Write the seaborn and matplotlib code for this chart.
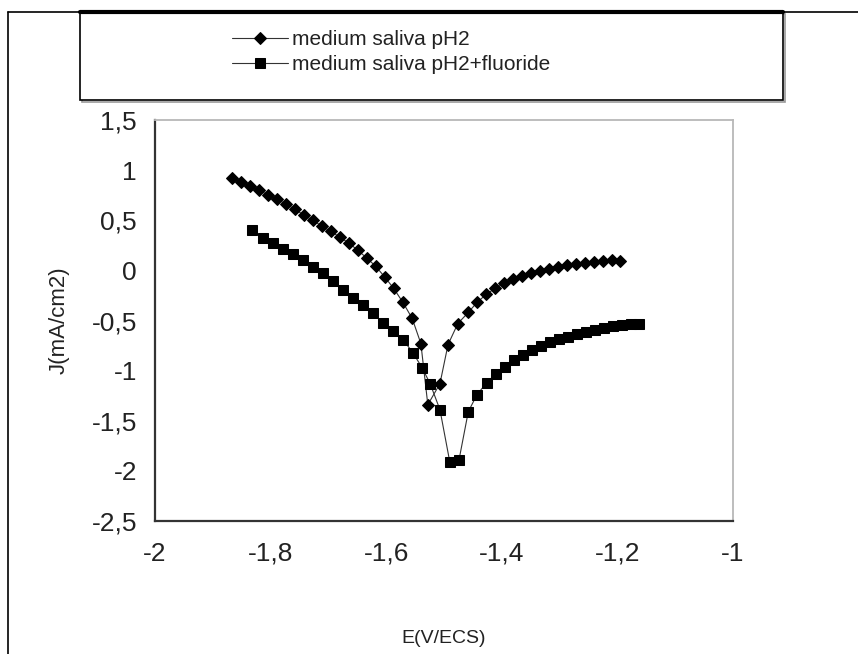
import numpy as np
import pandas as pd
import matplotlib
matplotlib.use('Agg')
import matplotlib.pyplot as plt
from matplotlib.patches import Rectangle
from matplotlib.lines import Line2D
import seaborn as sns

# dados: E (V/ECS) e J (mA/cm2)
e_saliva = [-1.867, -1.851, -1.836, -1.820, -1.804, -1.789, -1.773, -1.758, -1.742, -1.727,
            -1.711, -1.696, -1.680, -1.664, -1.649, -1.633, -1.618, -1.602, -1.587, -1.571,
            -1.555, -1.540, -1.528, -1.507, -1.493, -1.476, -1.458, -1.443, -1.427, -1.412,
            -1.396, -1.381, -1.365, -1.349, -1.334, -1.318, -1.303, -1.287, -1.272, -1.256,
            -1.240, -1.225, -1.209, -1.196]
j_saliva = [0.92, 0.88, 0.84, 0.80, 0.75, 0.71, 0.66, 0.61, 0.55, 0.50,
            0.44, 0.39, 0.33, 0.27, 0.20, 0.12, 0.04, -0.07, -0.18, -0.32,
            -0.48, -0.73, -1.34, -1.13, -0.74, -0.53, -0.42, -0.32, -0.24, -0.18,
            -0.13, -0.09, -0.06, -0.03, -0.01, 0.01, 0.03, 0.05, 0.06, 0.07,
            0.08, 0.09, 0.10, 0.09]

e_fluor = [-1.832, -1.813, -1.796, -1.779, -1.761, -1.744, -1.727, -1.709, -1.692, -1.675,
           -1.657, -1.640, -1.623, -1.606, -1.588, -1.571, -1.554, -1.538, -1.524, -1.507,
           -1.490, -1.474, -1.458, -1.443, -1.426, -1.410, -1.394, -1.379, -1.363, -1.348,
           -1.332, -1.317, -1.301, -1.285, -1.270, -1.254, -1.239, -1.223, -1.208, -1.192,
           -1.176, -1.163]
j_fluor = [0.40, 0.32, 0.27, 0.21, 0.16, 0.10, 0.03, -0.03, -0.11, -0.20,
           -0.28, -0.35, -0.43, -0.52, -0.60, -0.69, -0.82, -0.97, -1.13, -1.39,
           -1.91, -1.89, -1.41, -1.24, -1.12, -1.03, -0.96, -0.89, -0.84, -0.79,
           -0.75, -0.71, -0.68, -0.66, -0.63, -0.61, -0.59, -0.57, -0.55, -0.54,
           -0.53, -0.53]

series_names = ['medium saliva pH2', 'medium saliva pH2+fluoride']

x_ticks = [-2, -1.8, -1.6, -1.4, -1.2, -1]
x_tick_labels = ['-2', '-1,8', '-1,6', '-1,4', '-1,2', '-1']
y_ticks = [1.5, 1, 0.5, 0, -0.5, -1, -1.5, -2, -2.5]
y_tick_labels = ['1,5', '1', '0,5', '0', '-0,5', '-1', '-1,5', '-2', '-2,5']

df = pd.concat([
    pd.DataFrame({'E': e_saliva, 'J': j_saliva, 'serie': series_names[0]}),
    pd.DataFrame({'E': e_fluor, 'J': j_fluor, 'serie': series_names[1]}),
], ignore_index=True)

sns.set_style('white')
plt.rcParams['font.family'] = ['Liberation Sans', 'DejaVu Sans']

W, H = 858, 654
fig = plt.figure(figsize=(W / 100, H / 100), dpi=100)
ax = fig.add_axes([155 / W, 1 - 521 / H, (733 - 155) / W, (521 - 120) / H])

marcadores = {'medium saliva pH2': 'D', 'medium saliva pH2+fluoride': 's'}
tamanhos = {'medium saliva pH2': 6.4, 'medium saliva pH2+fluoride': 7.5}
for nome in series_names:
    sub = df[df['serie'] == nome]
    sns.lineplot(data=sub, x='E', y='J', ax=ax, sort=False, color='#333333',
                 linewidth=0.8, marker=marcadores[nome], markersize=tamanhos[nome],
                 markerfacecolor='black', markeredgecolor='black', label=nome, legend=False)

ax.set_xlim(-2, -1)
ax.set_ylim(-2.5, 1.5)
ax.set_xticks(x_ticks)
ax.set_xticklabels(x_tick_labels)
ax.set_yticks(y_ticks)
ax.set_yticklabels(y_tick_labels)
ax.tick_params(axis='both', direction='out', length=5, width=1.2, color='#333333',
               labelsize=19, labelcolor='#222222', pad=8)
ax.tick_params(axis='x', pad=10)

for lado in ['left', 'bottom']:
    ax.spines[lado].set_color('#333333')
    ax.spines[lado].set_linewidth(1.6)
for lado in ['top', 'right']:
    ax.spines[lado].set_color('#b8b8b8')
    ax.spines[lado].set_linewidth(1.3)

ax.set_xlabel('E(V/ECS)', fontsize=14, color='#222222', labelpad=46)
ax.set_ylabel('J(mA/cm2)', fontsize=16, color='#222222', labelpad=16)

# moldura externa e caixa da legenda
fig.add_artist(Line2D([8 / W, 1], [1 - 12 / H, 1 - 12 / H], color='black', lw=1.2))
fig.add_artist(Line2D([8 / W, 8 / W], [0, 1 - 12 / H], color='black', lw=1.2))
fig.add_artist(Rectangle((82 / W, 1 - 102 / H), 703 / W, 88 / H, transform=fig.transFigure,
                         fill=False, ec='#999999', lw=1.2))
fig.add_artist(Rectangle((80 / W, 1 - 100 / H), 703 / W, 88 / H, transform=fig.transFigure,
                         fill=True, fc='white', ec='black', lw=1.2))
fig.add_artist(Line2D([80 / W, 783 / W], [1 - 12 / H, 1 - 12 / H], color='black', lw=3))

handles, labels = ax.get_legend_handles_labels()
fig.legend(handles, labels, loc='upper left', bbox_to_anchor=(232 / W, 1 - 30 / H),
           frameon=False, handlelength=2.7, handletextpad=0.2, labelspacing=0.3,
           borderpad=0, borderaxespad=0, fontsize=15, labelcolor='#222222')

fig.savefig('out.png', dpi=100)
